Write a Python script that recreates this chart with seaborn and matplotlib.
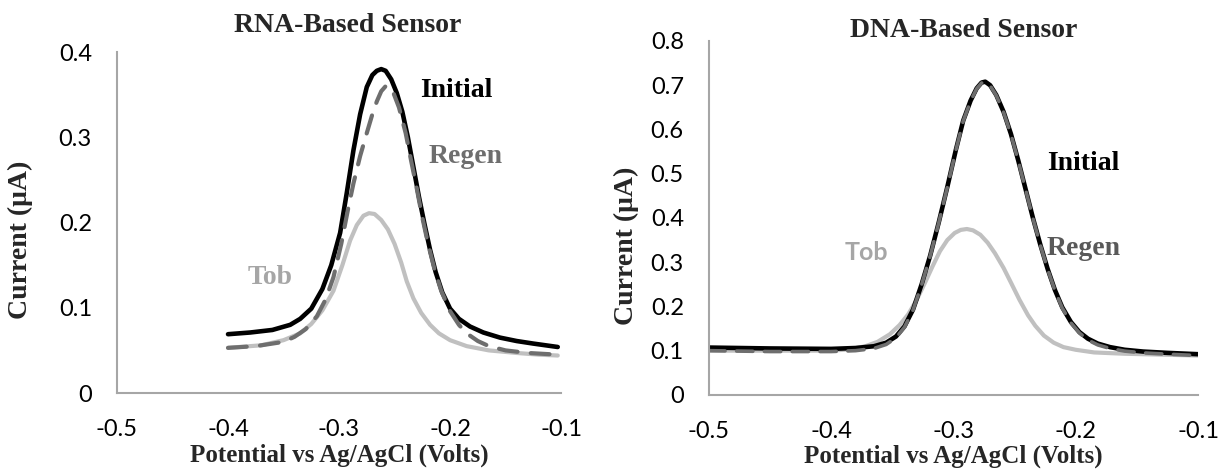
import matplotlib
matplotlib.use("Agg")
import matplotlib.pyplot as plt
import numpy as np
import seaborn as sns

# ---- data ----
rna_init_x = [-0.400, -0.380, -0.360, -0.344, -0.335, -0.325, -0.315, -0.307, -0.299, -0.293, -0.287, -0.281,
              -0.275, -0.270, -0.266, -0.262, -0.258, -0.253, -0.248, -0.243, -0.238, -0.233, -0.228, -0.223,
              -0.218, -0.213, -0.207, -0.200, -0.192, -0.182, -0.170, -0.155, -0.140, -0.125, -0.103]
rna_init_y = [0.069, 0.071, 0.074, 0.080, 0.087, 0.099, 0.122, 0.150, 0.188, 0.235, 0.285, 0.327,
              0.359, 0.373, 0.378, 0.380, 0.378, 0.368, 0.352, 0.330, 0.300, 0.265, 0.230, 0.198,
              0.168, 0.142, 0.118, 0.099, 0.087, 0.078, 0.071, 0.065, 0.061, 0.058, 0.054]
rna_regen_x = [-0.400, -0.375, -0.350, -0.340, -0.330, -0.320, -0.312, -0.305, -0.298, -0.292, -0.287, -0.281,
               -0.275, -0.270, -0.266, -0.262, -0.258, -0.255, -0.251, -0.246, -0.240, -0.235, -0.230, -0.225,
               -0.220, -0.214, -0.208, -0.200, -0.192, -0.185, -0.175, -0.165, -0.150, -0.130, -0.103]
rna_regen_y = [0.053, 0.055, 0.060, 0.066, 0.075, 0.090, 0.110, 0.136, 0.175, 0.215, 0.246, 0.278,
               0.305, 0.327, 0.342, 0.354, 0.360, 0.360, 0.352, 0.335, 0.305, 0.272, 0.240, 0.206,
               0.176, 0.145, 0.120, 0.096, 0.080, 0.070, 0.061, 0.055, 0.050, 0.047, 0.045]
rna_tob_x = [-0.400, -0.370, -0.350, -0.335, -0.325, -0.315, -0.305, -0.297, -0.290, -0.284, -0.278, -0.273,
             -0.268, -0.262, -0.256, -0.250, -0.244, -0.239, -0.233, -0.226, -0.218, -0.210, -0.200, -0.185,
             -0.165, -0.140, -0.120, -0.103]
rna_tob_y = [0.053, 0.056, 0.062, 0.070, 0.081, 0.097, 0.120, 0.150, 0.179, 0.197, 0.208, 0.211,
             0.210, 0.203, 0.192, 0.175, 0.153, 0.131, 0.111, 0.094, 0.080, 0.070, 0.062, 0.055,
             0.050, 0.047, 0.045, 0.044]

dna_x = [-0.500, -0.450, -0.400, -0.380, -0.365, -0.355, -0.347, -0.340, -0.333, -0.326, -0.319, -0.312,
         -0.305, -0.298, -0.292, -0.286, -0.281, -0.277, -0.274, -0.270, -0.265, -0.259, -0.253, -0.247,
         -0.241, -0.235, -0.229, -0.223, -0.217, -0.211, -0.204, -0.197, -0.190, -0.182, -0.172, -0.160,
         -0.145, -0.125, -0.100]
dna_init_y = [0.107, 0.105, 0.104, 0.106, 0.110, 0.118, 0.132, 0.155, 0.193, 0.250, 0.315, 0.390,
              0.470, 0.554, 0.620, 0.665, 0.693, 0.706, 0.708, 0.700, 0.678, 0.640, 0.590, 0.530,
              0.465, 0.400, 0.340, 0.285, 0.237, 0.198, 0.165, 0.142, 0.127, 0.116, 0.108, 0.102,
              0.098, 0.095, 0.092]
dna_regen_y = [0.100, 0.098, 0.098, 0.100, 0.105, 0.114, 0.129, 0.153, 0.192, 0.249, 0.314, 0.389,
               0.469, 0.553, 0.619, 0.664, 0.692, 0.705, 0.707, 0.699, 0.677, 0.639, 0.589, 0.529,
               0.464, 0.399, 0.339, 0.284, 0.236, 0.196, 0.163, 0.140, 0.124, 0.113, 0.105, 0.099,
               0.095, 0.092, 0.089]
dna_tob_x = [-0.500, -0.450, -0.400, -0.385, -0.372, -0.362, -0.352, -0.344, -0.337, -0.330, -0.323, -0.317,
             -0.311, -0.305, -0.299, -0.294, -0.289, -0.284, -0.278, -0.272, -0.266, -0.259, -0.253, -0.246,
             -0.239, -0.233, -0.226, -0.218, -0.210, -0.200, -0.185, -0.160, -0.130, -0.100]
dna_tob_y = [0.100, 0.100, 0.100, 0.103, 0.110, 0.120, 0.137, 0.158, 0.182, 0.215, 0.255, 0.291,
             0.325, 0.350, 0.366, 0.373, 0.375, 0.372, 0.362, 0.344, 0.320, 0.287, 0.254, 0.215,
             0.180, 0.156, 0.134, 0.118, 0.108, 0.102, 0.096, 0.093, 0.091, 0.089]

x_ticks = [-0.5, -0.4, -0.3, -0.2, -0.1]
x_tick_labels = ["-0.5", "-0.4", "-0.3", "-0.2", "-0.1"]

sns.set_style("white")
plt.rcParams["font.family"] = ["Lato", "DejaVu Sans"]
plt.rcParams["axes.unicode_minus"] = False
serif = ["Liberation Serif", "DejaVu Serif"]

BLACK = "#000000"
REGEN = "#6e6e6e"
TOB = "#c0c0c0"

fig = plt.figure(figsize=(12.2, 4.69), dpi=100)
ax1 = fig.add_axes([0.0959, 0.162, 0.364, 0.727])
ax2 = fig.add_axes([0.581, 0.158, 0.401, 0.7546])


def draw(ax, x, y, color, lw, dashed=False):
    sns.lineplot(x=x, y=y, ax=ax, color=color, lw=lw, sort=False, estimator=None,
                 solid_capstyle="round", solid_joinstyle="round", dash_capstyle="round")
    if dashed:
        ax.lines[-1].set_dashes([4.5, 3.2])


# RNA panel
draw(ax1, rna_tob_x, rna_tob_y, TOB, 3.0)
draw(ax1, rna_init_x, rna_init_y, BLACK, 3.3)
draw(ax1, rna_regen_x, rna_regen_y, REGEN, 3.0, dashed=True)

# DNA panel
draw(ax2, dna_tob_x, dna_tob_y, TOB, 3.0)
draw(ax2, dna_x, dna_init_y, BLACK, 3.3)
draw(ax2, dna_x, dna_regen_y, REGEN, 2.6, dashed=True)

for ax, ymax, title, tx, ty in [(ax1, 0.4, "RNA-Based Sensor", 0.52, 1.079),
                                (ax2, 0.8, "DNA-Based Sensor", 0.521, 1.031)]:
    ax.set_xlim(-0.5, -0.1)
    ax.set_ylim(0, ymax)
    ax.set_xticks(x_ticks)
    ax.set_xticklabels(x_tick_labels)
    yt = np.arange(0, ymax + 0.01, 0.1)
    ax.set_yticks(yt)
    ax.set_yticklabels(["0"] + [f"{v:.1f}" for v in yt[1:]])
    for s in ["top", "right"]:
        ax.spines[s].set_visible(False)
    for s in ["left", "bottom"]:
        ax.spines[s].set_color("#a6a6a6")
        ax.spines[s].set_linewidth(1.5)
    ax.tick_params(axis="both", direction="in", length=6, width=1.5, color="#a6a6a6",
                   labelsize=17, labelcolor="black")
    ax.tick_params(axis="x", pad=19)
    ax.tick_params(axis="y", pad=18)
    ax.set_xlabel("Potential vs Ag/AgCl (Volts)", family=serif, fontweight="bold", fontsize=18)
    ax.set_ylabel("Current (μA)", family=serif, fontweight="bold", fontsize=20)
    ax.text(tx, ty, title, transform=ax.transAxes, ha="center", va="center",
            family=serif, fontweight="bold", fontsize=20)

ax1.xaxis.set_label_coords(0.5, -0.148)
ax2.xaxis.set_label_coords(0.5, -0.14)
ax1.yaxis.set_label_coords(-0.19, 0.45)
ax2.yaxis.set_label_coords(-0.142, 0.42)

# curve labels
ax1.text(-0.194, 0.355, "Initial", color=BLACK, family=serif, fontweight="bold", fontsize=20, ha="center", va="center")
ax1.text(-0.186, 0.277, "Regen", color=REGEN, family=serif, fontweight="bold", fontsize=20, ha="center", va="center")
ax1.text(-0.362, 0.135, "Tob", color="#a6a6a6", family=serif, fontweight="bold", fontsize=20, ha="center", va="center")
ax2.text(-0.194, 0.524, "Initial", color=BLACK, family=serif, fontweight="bold", fontsize=20, ha="center", va="center")
ax2.text(-0.194, 0.332, "Regen", color="#595959", family=serif, fontweight="bold", fontsize=20, ha="center", va="center")
ax2.text(-0.371, 0.321, "Tob", color="#a6a6a6", fontweight="bold", fontsize=18, ha="center", va="center")

fig.savefig("out.png", dpi=100)
